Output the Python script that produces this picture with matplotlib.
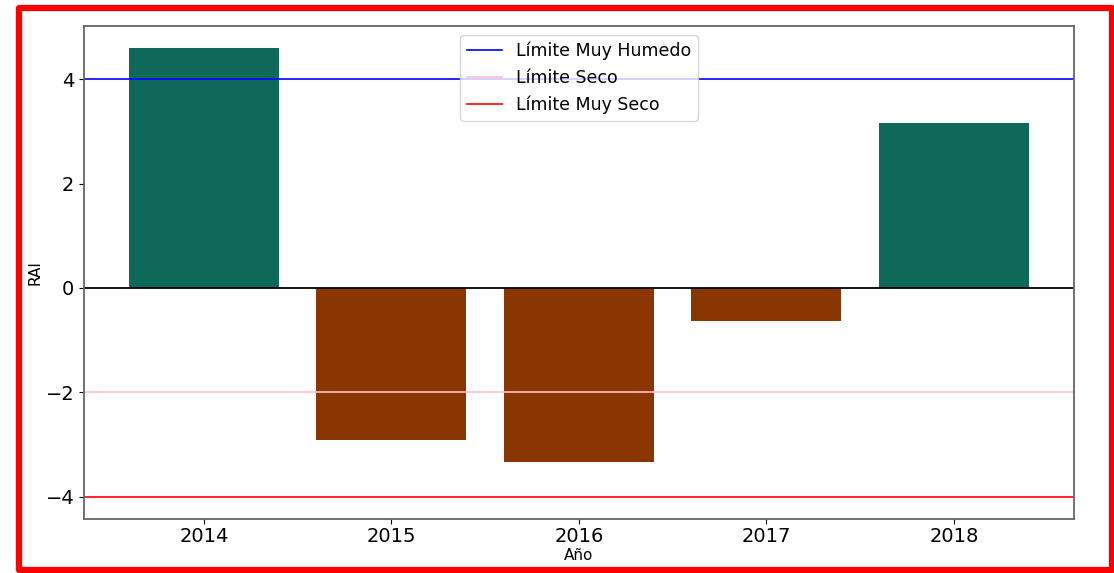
import matplotlib.pyplot as plt
from matplotlib.patches import Rectangle

# --- Datos ------------------------------------------------------------------
anios = ["2014", "2015", "2016", "2017", "2018"]
rai = [4.59, -2.91, -3.33, -0.63, 3.16]

limites = [4, -2, -4]
limites_nombres = ["Límite Muy Humedo", "Límite Seco", "Límite Muy Seco"]
limites_colores = ["blue", "pink", "red"]

color_humedo = "#0f6958"
color_seco = "#8a3600"

# --- Gráfico ----------------------------------------------------------------
fig = plt.figure(figsize=(11.14, 5.73), dpi=100)
ax = fig.add_axes([0.0754, 0.0942, 0.8886, 0.8604])

colores = [color_humedo if v >= 0 else color_seco for v in rai]
ax.bar(anios, rai, width=0.8, color=colores)

for y, nombre, c in zip(limites, limites_nombres, limites_colores):
    ax.axhline(y, color=c, linewidth=1.2, label=nombre)
ax.axhline(0, color="black", linewidth=1.3)

ax.set_xlabel("Año", fontsize=11, labelpad=1)
ax.set_ylabel("RAI", fontsize=11, labelpad=2)
ax.tick_params(axis="x", labelsize=14, pad=2.5)
ax.tick_params(axis="y", labelsize=14)
for s in ax.spines.values():
    s.set_edgecolor("#666666")
    s.set_linewidth(1.3)

ax.legend(loc="upper center", fontsize=12.5)

# marco rojo alrededor de la figura
marco = Rectangle((0.0171, 0.0055), 0.9807, 0.9805, transform=fig.transFigure,
                  fill=False, edgecolor="red", linewidth=4.5, joinstyle="round")
fig.patches.append(marco)

fig.savefig("out.png", dpi=100)
